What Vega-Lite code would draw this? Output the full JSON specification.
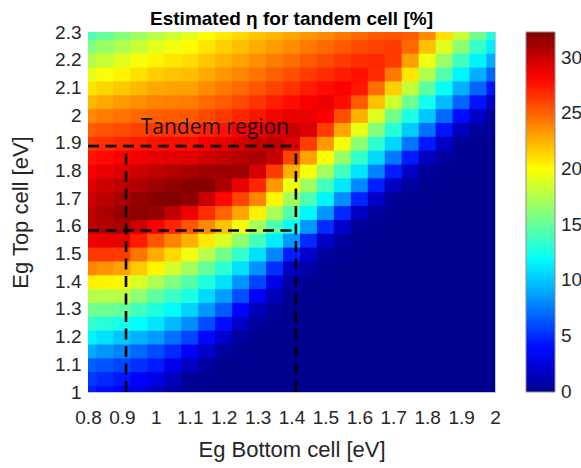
{
"$schema": "https://vega.github.io/schema/vega-lite/v6.json",
"width": 407, "height": 360,
"autosize": {"type": "none"},
"padding": {"left": 88, "top": 32, "right": 86, "bottom": 76},
"background": "white",
"title": {"text": "Estimated η for tandem cell [%]", "font": "Liberation Sans", "fontSize": 19, "fontWeight": "bold", "color": "#000000", "anchor": "middle", "offset": 7, "dy": 13},
"datasets": {
"grid": [
{"b":0.8,"t":1,"e":4.5},{"b":0.8,"t":1.05,"e":5.4},{"b":0.8,"t":1.1,"e":6.7},{"b":0.8,"t":1.15,"e":9},{"b":0.8,"t":1.2,"e":11.5},{"b":0.8,"t":1.25,"e":13.4},{"b":0.8,"t":1.3,"e":15.5},{"b":0.8,"t":1.35,"e":17.6},{"b":0.8,"t":1.4,"e":20.5},{"b":0.8,"t":1.45,"e":24},{"b":0.8,"t":1.5,"e":26.4},{"b":0.8,"t":1.55,"e":28.6},{"b":0.8,"t":1.6,"e":30.3},{"b":0.8,"t":1.65,"e":30.2},{"b":0.8,"t":1.7,"e":29.8},{"b":0.8,"t":1.75,"e":29.2},{"b":0.8,"t":1.8,"e":28.4},{"b":0.8,"t":1.85,"e":27.5},{"b":0.8,"t":1.9,"e":26.4},{"b":0.8,"t":1.95,"e":25.2},{"b":0.8,"t":2,"e":23.8},{"b":0.8,"t":2.05,"e":22.3},{"b":0.8,"t":2.1,"e":20.8},{"b":0.8,"t":2.15,"e":19.2},{"b":0.8,"t":2.2,"e":17.6},{"b":0.8,"t":2.25,"e":15.9},{"b":0.8,"t":2.3,"e":14.2},
{"b":0.85,"t":1,"e":4},{"b":0.85,"t":1.05,"e":4.9},{"b":0.85,"t":1.1,"e":6.3},{"b":0.85,"t":1.15,"e":8.4},{"b":0.85,"t":1.2,"e":10.8},{"b":0.85,"t":1.25,"e":13},{"b":0.85,"t":1.3,"e":15.3},{"b":0.85,"t":1.35,"e":17.7},{"b":0.85,"t":1.4,"e":20.4},{"b":0.85,"t":1.45,"e":23.5},{"b":0.85,"t":1.5,"e":26.4},{"b":0.85,"t":1.55,"e":28.8},{"b":0.85,"t":1.6,"e":30.7},{"b":0.85,"t":1.65,"e":30.9},{"b":0.85,"t":1.7,"e":30.4},{"b":0.85,"t":1.75,"e":29.8},{"b":0.85,"t":1.8,"e":28.9},{"b":0.85,"t":1.85,"e":27.9},{"b":0.85,"t":1.9,"e":26.7},{"b":0.85,"t":1.95,"e":25.5},{"b":0.85,"t":2,"e":24.2},{"b":0.85,"t":2.05,"e":22.8},{"b":0.85,"t":2.1,"e":21.3},{"b":0.85,"t":2.15,"e":19.8},{"b":0.85,"t":2.2,"e":18.3},{"b":0.85,"t":2.25,"e":16.7},{"b":0.85,"t":2.3,"e":15.1},
{"b":0.9,"t":1,"e":3.4},{"b":0.9,"t":1.05,"e":4.3},{"b":0.9,"t":1.1,"e":5.8},{"b":0.9,"t":1.15,"e":7.8},{"b":0.9,"t":1.2,"e":10},{"b":0.9,"t":1.25,"e":12.5},{"b":0.9,"t":1.3,"e":15},{"b":0.9,"t":1.35,"e":17.8},{"b":0.9,"t":1.4,"e":20.2},{"b":0.9,"t":1.45,"e":23},{"b":0.9,"t":1.5,"e":26.3},{"b":0.9,"t":1.55,"e":29},{"b":0.9,"t":1.6,"e":31},{"b":0.9,"t":1.65,"e":31.5},{"b":0.9,"t":1.7,"e":31},{"b":0.9,"t":1.75,"e":30.3},{"b":0.9,"t":1.8,"e":29.3},{"b":0.9,"t":1.85,"e":28.2},{"b":0.9,"t":1.9,"e":27},{"b":0.9,"t":1.95,"e":25.8},{"b":0.9,"t":2,"e":24.5},{"b":0.9,"t":2.05,"e":23.2},{"b":0.9,"t":2.1,"e":21.8},{"b":0.9,"t":2.15,"e":20.4},{"b":0.9,"t":2.2,"e":19},{"b":0.9,"t":2.25,"e":17.5},{"b":0.9,"t":2.3,"e":16},
{"b":0.95,"t":1,"e":2.5},{"b":0.95,"t":1.05,"e":3.6},{"b":0.95,"t":1.1,"e":5.1},{"b":0.95,"t":1.15,"e":6.9},{"b":0.95,"t":1.2,"e":9.3},{"b":0.95,"t":1.25,"e":11.8},{"b":0.95,"t":1.3,"e":13.9},{"b":0.95,"t":1.35,"e":16.3},{"b":0.95,"t":1.4,"e":18.8},{"b":0.95,"t":1.45,"e":21.7},{"b":0.95,"t":1.5,"e":24.5},{"b":0.95,"t":1.55,"e":27.3},{"b":0.95,"t":1.6,"e":29.8},{"b":0.95,"t":1.65,"e":31.9},{"b":0.95,"t":1.7,"e":31.7},{"b":0.95,"t":1.75,"e":30.8},{"b":0.95,"t":1.8,"e":29.8},{"b":0.95,"t":1.85,"e":28.6},{"b":0.95,"t":1.9,"e":27.4},{"b":0.95,"t":1.95,"e":26.1},{"b":0.95,"t":2,"e":24.9},{"b":0.95,"t":2.05,"e":23.6},{"b":0.95,"t":2.1,"e":22.3},{"b":0.95,"t":2.15,"e":21},{"b":0.95,"t":2.2,"e":19.7},{"b":0.95,"t":2.25,"e":18.3},{"b":0.95,"t":2.3,"e":16.9},
{"b":1,"t":1,"e":1.5},{"b":1,"t":1.05,"e":2.8},{"b":1,"t":1.1,"e":4.4},{"b":1,"t":1.15,"e":6},{"b":1,"t":1.2,"e":8.6},{"b":1,"t":1.25,"e":11},{"b":1,"t":1.3,"e":12.8},{"b":1,"t":1.35,"e":14.8},{"b":1,"t":1.4,"e":17.4},{"b":1,"t":1.45,"e":20.3},{"b":1,"t":1.5,"e":22.7},{"b":1,"t":1.55,"e":25.5},{"b":1,"t":1.6,"e":28.3},{"b":1,"t":1.65,"e":31.6},{"b":1,"t":1.7,"e":32.1},{"b":1,"t":1.75,"e":31.3},{"b":1,"t":1.8,"e":30.2},{"b":1,"t":1.85,"e":29},{"b":1,"t":1.9,"e":27.7},{"b":1,"t":1.95,"e":26.4},{"b":1,"t":2,"e":25.2},{"b":1,"t":2.05,"e":24},{"b":1,"t":2.1,"e":22.8},{"b":1,"t":2.15,"e":21.6},{"b":1,"t":2.2,"e":20.4},{"b":1,"t":2.25,"e":19.1},{"b":1,"t":2.3,"e":17.8},
{"b":1.05,"t":1,"e":0.6},{"b":1.05,"t":1.05,"e":1.5},{"b":1.05,"t":1.1,"e":3},{"b":1.05,"t":1.15,"e":4.9},{"b":1.05,"t":1.2,"e":7.2},{"b":1.05,"t":1.25,"e":9.6},{"b":1.05,"t":1.3,"e":11.7},{"b":1.05,"t":1.35,"e":13.7},{"b":1.05,"t":1.4,"e":15.9},{"b":1.05,"t":1.45,"e":18.6},{"b":1.05,"t":1.5,"e":21.2},{"b":1.05,"t":1.55,"e":24},{"b":1.05,"t":1.6,"e":27},{"b":1.05,"t":1.65,"e":30.2},{"b":1.05,"t":1.7,"e":32.2},{"b":1.05,"t":1.75,"e":31.7},{"b":1.05,"t":1.8,"e":30.6},{"b":1.05,"t":1.85,"e":29.1},{"b":1.05,"t":1.9,"e":27.8},{"b":1.05,"t":1.95,"e":26.5},{"b":1.05,"t":2,"e":25.3},{"b":1.05,"t":2.05,"e":24.1},{"b":1.05,"t":2.1,"e":23},{"b":1.05,"t":2.15,"e":21.9},{"b":1.05,"t":2.2,"e":20.8},{"b":1.05,"t":2.25,"e":19.6},{"b":1.05,"t":2.3,"e":18.5},
{"b":1.1,"t":1,"e":0},{"b":1.1,"t":1.05,"e":0.3},{"b":1.1,"t":1.1,"e":1.6},{"b":1.1,"t":1.15,"e":3.4},{"b":1.1,"t":1.2,"e":5.8},{"b":1.1,"t":1.25,"e":8.2},{"b":1.1,"t":1.3,"e":10.4},{"b":1.1,"t":1.35,"e":12.6},{"b":1.1,"t":1.4,"e":14.5},{"b":1.1,"t":1.45,"e":17},{"b":1.1,"t":1.5,"e":19.5},{"b":1.1,"t":1.55,"e":22.5},{"b":1.1,"t":1.6,"e":25.5},{"b":1.1,"t":1.65,"e":28.7},{"b":1.1,"t":1.7,"e":31.8},{"b":1.1,"t":1.75,"e":32.1},{"b":1.1,"t":1.8,"e":30.9},{"b":1.1,"t":1.85,"e":29.2},{"b":1.1,"t":1.9,"e":27.8},{"b":1.1,"t":1.95,"e":26.5},{"b":1.1,"t":2,"e":25.3},{"b":1.1,"t":2.05,"e":24.2},{"b":1.1,"t":2.1,"e":23.1},{"b":1.1,"t":2.15,"e":22.1},{"b":1.1,"t":2.2,"e":21.1},{"b":1.1,"t":2.25,"e":20.1},{"b":1.1,"t":2.3,"e":19.2},
{"b":1.15,"t":1,"e":0},{"b":1.15,"t":1.05,"e":0.1},{"b":1.15,"t":1.1,"e":0.5},{"b":1.15,"t":1.15,"e":1.8},{"b":1.15,"t":1.2,"e":3.8},{"b":1.15,"t":1.25,"e":6.1},{"b":1.15,"t":1.3,"e":8.5},{"b":1.15,"t":1.35,"e":10.6},{"b":1.15,"t":1.4,"e":12.8},{"b":1.15,"t":1.45,"e":15},{"b":1.15,"t":1.5,"e":17.7},{"b":1.15,"t":1.55,"e":20.7},{"b":1.15,"t":1.6,"e":23.8},{"b":1.15,"t":1.65,"e":26.8},{"b":1.15,"t":1.7,"e":29.9},{"b":1.15,"t":1.75,"e":32.1},{"b":1.15,"t":1.8,"e":31.3},{"b":1.15,"t":1.85,"e":29.7},{"b":1.15,"t":1.9,"e":28.4},{"b":1.15,"t":1.95,"e":27.1},{"b":1.15,"t":2,"e":25.9},{"b":1.15,"t":2.05,"e":24.8},{"b":1.15,"t":2.1,"e":23.7},{"b":1.15,"t":2.15,"e":22.7},{"b":1.15,"t":2.2,"e":21.8},{"b":1.15,"t":2.25,"e":20.8},{"b":1.15,"t":2.3,"e":19.9},
{"b":1.2,"t":1,"e":0},{"b":1.2,"t":1.05,"e":0},{"b":1.2,"t":1.1,"e":0},{"b":1.2,"t":1.15,"e":0.5},{"b":1.2,"t":1.2,"e":2},{"b":1.2,"t":1.25,"e":4},{"b":1.2,"t":1.3,"e":6.5},{"b":1.2,"t":1.35,"e":8.7},{"b":1.2,"t":1.4,"e":10.8},{"b":1.2,"t":1.45,"e":13.2},{"b":1.2,"t":1.5,"e":15.5},{"b":1.2,"t":1.55,"e":18.8},{"b":1.2,"t":1.6,"e":22},{"b":1.2,"t":1.65,"e":25},{"b":1.2,"t":1.7,"e":28},{"b":1.2,"t":1.75,"e":30.8},{"b":1.2,"t":1.8,"e":31.4},{"b":1.2,"t":1.85,"e":30.2},{"b":1.2,"t":1.9,"e":28.9},{"b":1.2,"t":1.95,"e":27.6},{"b":1.2,"t":2,"e":26.4},{"b":1.2,"t":2.05,"e":25.3},{"b":1.2,"t":2.1,"e":24.3},{"b":1.2,"t":2.15,"e":23.3},{"b":1.2,"t":2.2,"e":22.4},{"b":1.2,"t":2.25,"e":21.5},{"b":1.2,"t":2.3,"e":20.6},
{"b":1.25,"t":1,"e":0},{"b":1.25,"t":1.05,"e":0},{"b":1.25,"t":1.1,"e":0},{"b":1.25,"t":1.15,"e":0.1},{"b":1.25,"t":1.2,"e":0.5},{"b":1.25,"t":1.25,"e":1.8},{"b":1.25,"t":1.3,"e":3.7},{"b":1.25,"t":1.35,"e":6.1},{"b":1.25,"t":1.4,"e":8.4},{"b":1.25,"t":1.45,"e":10.8},{"b":1.25,"t":1.5,"e":13.4},{"b":1.25,"t":1.55,"e":16.4},{"b":1.25,"t":1.6,"e":19.6},{"b":1.25,"t":1.65,"e":22.9},{"b":1.25,"t":1.7,"e":26},{"b":1.25,"t":1.75,"e":28.9},{"b":1.25,"t":1.8,"e":31.3},{"b":1.25,"t":1.85,"e":30.6},{"b":1.25,"t":1.9,"e":29.5},{"b":1.25,"t":1.95,"e":28.2},{"b":1.25,"t":2,"e":27},{"b":1.25,"t":2.05,"e":25.9},{"b":1.25,"t":2.1,"e":24.9},{"b":1.25,"t":2.15,"e":23.9},{"b":1.25,"t":2.2,"e":23},{"b":1.25,"t":2.25,"e":22.1},{"b":1.25,"t":2.3,"e":21.2},
{"b":1.3,"t":1,"e":0},{"b":1.3,"t":1.05,"e":0},{"b":1.3,"t":1.1,"e":0},{"b":1.3,"t":1.15,"e":0},{"b":1.3,"t":1.2,"e":0},{"b":1.3,"t":1.25,"e":0.4},{"b":1.3,"t":1.3,"e":1.3},{"b":1.3,"t":1.35,"e":3.3},{"b":1.3,"t":1.4,"e":5.8},{"b":1.3,"t":1.45,"e":8.3},{"b":1.3,"t":1.5,"e":10.8},{"b":1.3,"t":1.55,"e":14},{"b":1.3,"t":1.6,"e":17.2},{"b":1.3,"t":1.65,"e":20.5},{"b":1.3,"t":1.7,"e":24},{"b":1.3,"t":1.75,"e":27},{"b":1.3,"t":1.8,"e":29.5},{"b":1.3,"t":1.85,"e":30.9},{"b":1.3,"t":1.9,"e":30},{"b":1.3,"t":1.95,"e":28.8},{"b":1.3,"t":2,"e":27.6},{"b":1.3,"t":2.05,"e":26.5},{"b":1.3,"t":2.1,"e":25.5},{"b":1.3,"t":2.15,"e":24.5},{"b":1.3,"t":2.2,"e":23.6},{"b":1.3,"t":2.25,"e":22.7},{"b":1.3,"t":2.3,"e":21.8},
{"b":1.35,"t":1,"e":0},{"b":1.35,"t":1.05,"e":0},{"b":1.35,"t":1.1,"e":0},{"b":1.35,"t":1.15,"e":0},{"b":1.35,"t":1.2,"e":0},{"b":1.35,"t":1.25,"e":0.1},{"b":1.35,"t":1.3,"e":0.4},{"b":1.35,"t":1.35,"e":1.3},{"b":1.35,"t":1.4,"e":2.8},{"b":1.35,"t":1.45,"e":5.1},{"b":1.35,"t":1.5,"e":8},{"b":1.35,"t":1.55,"e":11.3},{"b":1.35,"t":1.6,"e":14.4},{"b":1.35,"t":1.65,"e":17.3},{"b":1.35,"t":1.7,"e":20.3},{"b":1.35,"t":1.75,"e":23.3},{"b":1.35,"t":1.8,"e":26.3},{"b":1.35,"t":1.85,"e":30},{"b":1.35,"t":1.9,"e":30.3},{"b":1.35,"t":1.95,"e":29.4},{"b":1.35,"t":2,"e":28.3},{"b":1.35,"t":2.05,"e":27.2},{"b":1.35,"t":2.1,"e":26.1},{"b":1.35,"t":2.15,"e":25.1},{"b":1.35,"t":2.2,"e":24.2},{"b":1.35,"t":2.25,"e":23.2},{"b":1.35,"t":2.3,"e":22.3},
{"b":1.4,"t":1,"e":0},{"b":1.4,"t":1.05,"e":0},{"b":1.4,"t":1.1,"e":0},{"b":1.4,"t":1.15,"e":0},{"b":1.4,"t":1.2,"e":0},{"b":1.4,"t":1.25,"e":0},{"b":1.4,"t":1.3,"e":0},{"b":1.4,"t":1.35,"e":0.2},{"b":1.4,"t":1.4,"e":0.6},{"b":1.4,"t":1.45,"e":1.8},{"b":1.4,"t":1.5,"e":4.5},{"b":1.4,"t":1.55,"e":8.5},{"b":1.4,"t":1.6,"e":12},{"b":1.4,"t":1.65,"e":14.5},{"b":1.4,"t":1.7,"e":17},{"b":1.4,"t":1.75,"e":19.5},{"b":1.4,"t":1.8,"e":22.5},{"b":1.4,"t":1.85,"e":26},{"b":1.4,"t":1.9,"e":29.3},{"b":1.4,"t":1.95,"e":30},{"b":1.4,"t":2,"e":28.9},{"b":1.4,"t":2.05,"e":27.8},{"b":1.4,"t":2.1,"e":26.7},{"b":1.4,"t":2.15,"e":25.7},{"b":1.4,"t":2.2,"e":24.7},{"b":1.4,"t":2.25,"e":23.7},{"b":1.4,"t":2.3,"e":22.8},
{"b":1.45,"t":1,"e":0},{"b":1.45,"t":1.05,"e":0},{"b":1.45,"t":1.1,"e":0},{"b":1.45,"t":1.15,"e":0},{"b":1.45,"t":1.2,"e":0},{"b":1.45,"t":1.25,"e":0},{"b":1.45,"t":1.3,"e":0},{"b":1.45,"t":1.35,"e":0},{"b":1.45,"t":1.4,"e":0.2},{"b":1.45,"t":1.45,"e":0.7},{"b":1.45,"t":1.5,"e":2},{"b":1.45,"t":1.55,"e":4.9},{"b":1.45,"t":1.6,"e":8.5},{"b":1.45,"t":1.65,"e":11.6},{"b":1.45,"t":1.7,"e":14.3},{"b":1.45,"t":1.75,"e":16.9},{"b":1.45,"t":1.8,"e":19.8},{"b":1.45,"t":1.85,"e":23},{"b":1.45,"t":1.9,"e":26.3},{"b":1.45,"t":1.95,"e":29.3},{"b":1.45,"t":2,"e":28.9},{"b":1.45,"t":2.05,"e":28.3},{"b":1.45,"t":2.1,"e":27.3},{"b":1.45,"t":2.15,"e":26.3},{"b":1.45,"t":2.2,"e":25.3},{"b":1.45,"t":2.25,"e":24.3},{"b":1.45,"t":2.3,"e":23.3},
{"b":1.5,"t":1,"e":0},{"b":1.5,"t":1.05,"e":0},{"b":1.5,"t":1.1,"e":0},{"b":1.5,"t":1.15,"e":0},{"b":1.5,"t":1.2,"e":0},{"b":1.5,"t":1.25,"e":0},{"b":1.5,"t":1.3,"e":0},{"b":1.5,"t":1.35,"e":0},{"b":1.5,"t":1.4,"e":0},{"b":1.5,"t":1.45,"e":0.1},{"b":1.5,"t":1.5,"e":0.4},{"b":1.5,"t":1.55,"e":1.8},{"b":1.5,"t":1.6,"e":5},{"b":1.5,"t":1.65,"e":8.5},{"b":1.5,"t":1.7,"e":11.5},{"b":1.5,"t":1.75,"e":14},{"b":1.5,"t":1.8,"e":17},{"b":1.5,"t":1.85,"e":20},{"b":1.5,"t":1.9,"e":23.3},{"b":1.5,"t":1.95,"e":26.3},{"b":1.5,"t":2,"e":28.3},{"b":1.5,"t":2.05,"e":28.8},{"b":1.5,"t":2.1,"e":27.8},{"b":1.5,"t":2.15,"e":26.8},{"b":1.5,"t":2.2,"e":25.8},{"b":1.5,"t":2.25,"e":24.8},{"b":1.5,"t":2.3,"e":23.8},
{"b":1.55,"t":1,"e":0},{"b":1.55,"t":1.05,"e":0},{"b":1.55,"t":1.1,"e":0},{"b":1.55,"t":1.15,"e":0},{"b":1.55,"t":1.2,"e":0},{"b":1.55,"t":1.25,"e":0},{"b":1.55,"t":1.3,"e":0},{"b":1.55,"t":1.35,"e":0},{"b":1.55,"t":1.4,"e":0},{"b":1.55,"t":1.45,"e":0},{"b":1.55,"t":1.5,"e":0.2},{"b":1.55,"t":1.55,"e":0.6},{"b":1.55,"t":1.6,"e":2},{"b":1.55,"t":1.65,"e":4.9},{"b":1.55,"t":1.7,"e":8.2},{"b":1.55,"t":1.75,"e":11.1},{"b":1.55,"t":1.8,"e":13.9},{"b":1.55,"t":1.85,"e":16.7},{"b":1.55,"t":1.9,"e":19.7},{"b":1.55,"t":1.95,"e":22.9},{"b":1.55,"t":2,"e":25.7},{"b":1.55,"t":2.05,"e":27.8},{"b":1.55,"t":2.1,"e":28.2},{"b":1.55,"t":2.15,"e":27.3},{"b":1.55,"t":2.2,"e":26.3},{"b":1.55,"t":2.25,"e":25.3},{"b":1.55,"t":2.3,"e":24.3},
{"b":1.6,"t":1,"e":0},{"b":1.6,"t":1.05,"e":0},{"b":1.6,"t":1.1,"e":0},{"b":1.6,"t":1.15,"e":0},{"b":1.6,"t":1.2,"e":0},{"b":1.6,"t":1.25,"e":0},{"b":1.6,"t":1.3,"e":0},{"b":1.6,"t":1.35,"e":0},{"b":1.6,"t":1.4,"e":0},{"b":1.6,"t":1.45,"e":0},{"b":1.6,"t":1.5,"e":0},{"b":1.6,"t":1.55,"e":0.1},{"b":1.6,"t":1.6,"e":0.3},{"b":1.6,"t":1.65,"e":1.6},{"b":1.6,"t":1.7,"e":4.7},{"b":1.6,"t":1.75,"e":8},{"b":1.6,"t":1.8,"e":11},{"b":1.6,"t":1.85,"e":13.5},{"b":1.6,"t":1.9,"e":16.3},{"b":1.6,"t":1.95,"e":19.3},{"b":1.6,"t":2,"e":22.5},{"b":1.6,"t":2.05,"e":25.3},{"b":1.6,"t":2.1,"e":27.5},{"b":1.6,"t":2.15,"e":27.7},{"b":1.6,"t":2.2,"e":26.8},{"b":1.6,"t":2.25,"e":25.8},{"b":1.6,"t":2.3,"e":24.8},
{"b":1.65,"t":1,"e":0},{"b":1.65,"t":1.05,"e":0},{"b":1.65,"t":1.1,"e":0},{"b":1.65,"t":1.15,"e":0},{"b":1.65,"t":1.2,"e":0},{"b":1.65,"t":1.25,"e":0},{"b":1.65,"t":1.3,"e":0},{"b":1.65,"t":1.35,"e":0},{"b":1.65,"t":1.4,"e":0},{"b":1.65,"t":1.45,"e":0},{"b":1.65,"t":1.5,"e":0},{"b":1.65,"t":1.55,"e":0},{"b":1.65,"t":1.6,"e":0.1},{"b":1.65,"t":1.65,"e":0.5},{"b":1.65,"t":1.7,"e":1.8},{"b":1.65,"t":1.75,"e":4.6},{"b":1.65,"t":1.8,"e":7.8},{"b":1.65,"t":1.85,"e":10.6},{"b":1.65,"t":1.9,"e":13.3},{"b":1.65,"t":1.95,"e":16},{"b":1.65,"t":2,"e":18.9},{"b":1.65,"t":2.05,"e":22},{"b":1.65,"t":2.1,"e":24.7},{"b":1.65,"t":2.15,"e":26.8},{"b":1.65,"t":2.2,"e":26.9},{"b":1.65,"t":2.25,"e":26.1},{"b":1.65,"t":2.3,"e":25.2},
{"b":1.7,"t":1,"e":0},{"b":1.7,"t":1.05,"e":0},{"b":1.7,"t":1.1,"e":0},{"b":1.7,"t":1.15,"e":0},{"b":1.7,"t":1.2,"e":0},{"b":1.7,"t":1.25,"e":0},{"b":1.7,"t":1.3,"e":0},{"b":1.7,"t":1.35,"e":0},{"b":1.7,"t":1.4,"e":0},{"b":1.7,"t":1.45,"e":0},{"b":1.7,"t":1.5,"e":0},{"b":1.7,"t":1.55,"e":0},{"b":1.7,"t":1.6,"e":0},{"b":1.7,"t":1.65,"e":0.1},{"b":1.7,"t":1.7,"e":0.3},{"b":1.7,"t":1.75,"e":1.5},{"b":1.7,"t":1.8,"e":4.5},{"b":1.7,"t":1.85,"e":7.5},{"b":1.7,"t":1.9,"e":10.5},{"b":1.7,"t":1.95,"e":13},{"b":1.7,"t":2,"e":15.5},{"b":1.7,"t":2.05,"e":18.5},{"b":1.7,"t":2.1,"e":21.5},{"b":1.7,"t":2.15,"e":24.3},{"b":1.7,"t":2.2,"e":26.3},{"b":1.7,"t":2.25,"e":26.3},{"b":1.7,"t":2.3,"e":25.5},
{"b":1.75,"t":1,"e":0},{"b":1.75,"t":1.05,"e":0},{"b":1.75,"t":1.1,"e":0},{"b":1.75,"t":1.15,"e":0},{"b":1.75,"t":1.2,"e":0},{"b":1.75,"t":1.25,"e":0},{"b":1.75,"t":1.3,"e":0},{"b":1.75,"t":1.35,"e":0},{"b":1.75,"t":1.4,"e":0},{"b":1.75,"t":1.45,"e":0},{"b":1.75,"t":1.5,"e":0},{"b":1.75,"t":1.55,"e":0},{"b":1.75,"t":1.6,"e":0},{"b":1.75,"t":1.65,"e":0},{"b":1.75,"t":1.7,"e":0.1},{"b":1.75,"t":1.75,"e":0.5},{"b":1.75,"t":1.8,"e":1.8},{"b":1.75,"t":1.85,"e":4.4},{"b":1.75,"t":1.9,"e":7.4},{"b":1.75,"t":1.95,"e":10.2},{"b":1.75,"t":2,"e":12.7},{"b":1.75,"t":2.05,"e":15.3},{"b":1.75,"t":2.1,"e":18.1},{"b":1.75,"t":2.15,"e":20.8},{"b":1.75,"t":2.2,"e":23.1},{"b":1.75,"t":2.25,"e":24.9},{"b":1.75,"t":2.3,"e":25.3},
{"b":1.8,"t":1,"e":0},{"b":1.8,"t":1.05,"e":0},{"b":1.8,"t":1.1,"e":0},{"b":1.8,"t":1.15,"e":0},{"b":1.8,"t":1.2,"e":0},{"b":1.8,"t":1.25,"e":0},{"b":1.8,"t":1.3,"e":0},{"b":1.8,"t":1.35,"e":0},{"b":1.8,"t":1.4,"e":0},{"b":1.8,"t":1.45,"e":0},{"b":1.8,"t":1.5,"e":0},{"b":1.8,"t":1.55,"e":0},{"b":1.8,"t":1.6,"e":0},{"b":1.8,"t":1.65,"e":0},{"b":1.8,"t":1.7,"e":0},{"b":1.8,"t":1.75,"e":0.1},{"b":1.8,"t":1.8,"e":0.3},{"b":1.8,"t":1.85,"e":1.5},{"b":1.8,"t":1.9,"e":4.3},{"b":1.8,"t":1.95,"e":7.2},{"b":1.8,"t":2,"e":10},{"b":1.8,"t":2.05,"e":12.3},{"b":1.8,"t":2.1,"e":14.8},{"b":1.8,"t":2.15,"e":17.5},{"b":1.8,"t":2.2,"e":19.5},{"b":1.8,"t":2.25,"e":22},{"b":1.8,"t":2.3,"e":23.8},
{"b":1.85,"t":1,"e":0},{"b":1.85,"t":1.05,"e":0},{"b":1.85,"t":1.1,"e":0},{"b":1.85,"t":1.15,"e":0},{"b":1.85,"t":1.2,"e":0},{"b":1.85,"t":1.25,"e":0},{"b":1.85,"t":1.3,"e":0},{"b":1.85,"t":1.35,"e":0},{"b":1.85,"t":1.4,"e":0},{"b":1.85,"t":1.45,"e":0},{"b":1.85,"t":1.5,"e":0},{"b":1.85,"t":1.55,"e":0},{"b":1.85,"t":1.6,"e":0},{"b":1.85,"t":1.65,"e":0},{"b":1.85,"t":1.7,"e":0},{"b":1.85,"t":1.75,"e":0},{"b":1.85,"t":1.8,"e":0.1},{"b":1.85,"t":1.85,"e":0.5},{"b":1.85,"t":1.9,"e":1.7},{"b":1.85,"t":1.95,"e":4.2},{"b":1.85,"t":2,"e":7},{"b":1.85,"t":2.05,"e":9.6},{"b":1.85,"t":2.1,"e":12},{"b":1.85,"t":2.15,"e":14.4},{"b":1.85,"t":2.2,"e":16.8},{"b":1.85,"t":2.25,"e":19},{"b":1.85,"t":2.3,"e":21},
{"b":1.9,"t":1,"e":0},{"b":1.9,"t":1.05,"e":0},{"b":1.9,"t":1.1,"e":0},{"b":1.9,"t":1.15,"e":0},{"b":1.9,"t":1.2,"e":0},{"b":1.9,"t":1.25,"e":0},{"b":1.9,"t":1.3,"e":0},{"b":1.9,"t":1.35,"e":0},{"b":1.9,"t":1.4,"e":0},{"b":1.9,"t":1.45,"e":0},{"b":1.9,"t":1.5,"e":0},{"b":1.9,"t":1.55,"e":0},{"b":1.9,"t":1.6,"e":0},{"b":1.9,"t":1.65,"e":0},{"b":1.9,"t":1.7,"e":0},{"b":1.9,"t":1.75,"e":0},{"b":1.9,"t":1.8,"e":0},{"b":1.9,"t":1.85,"e":0.1},{"b":1.9,"t":1.9,"e":0.3},{"b":1.9,"t":1.95,"e":1.4},{"b":1.9,"t":2,"e":4},{"b":1.9,"t":2.05,"e":6.8},{"b":1.9,"t":2.1,"e":9.3},{"b":1.9,"t":2.15,"e":11.5},{"b":1.9,"t":2.2,"e":13.8},{"b":1.9,"t":2.25,"e":16.3},{"b":1.9,"t":2.3,"e":18.3},
{"b":1.95,"t":1,"e":0},{"b":1.95,"t":1.05,"e":0},{"b":1.95,"t":1.1,"e":0},{"b":1.95,"t":1.15,"e":0},{"b":1.95,"t":1.2,"e":0},{"b":1.95,"t":1.25,"e":0},{"b":1.95,"t":1.3,"e":0},{"b":1.95,"t":1.35,"e":0},{"b":1.95,"t":1.4,"e":0},{"b":1.95,"t":1.45,"e":0},{"b":1.95,"t":1.5,"e":0},{"b":1.95,"t":1.55,"e":0},{"b":1.95,"t":1.6,"e":0},{"b":1.95,"t":1.65,"e":0},{"b":1.95,"t":1.7,"e":0},{"b":1.95,"t":1.75,"e":0},{"b":1.95,"t":1.8,"e":0},{"b":1.95,"t":1.85,"e":0},{"b":1.95,"t":1.9,"e":0.1},{"b":1.95,"t":1.95,"e":0.5},{"b":1.95,"t":2,"e":1.8},{"b":1.95,"t":2.05,"e":4.2},{"b":1.95,"t":2.1,"e":6.8},{"b":1.95,"t":2.15,"e":9.2},{"b":1.95,"t":2.2,"e":11.4},{"b":1.95,"t":2.25,"e":13.5},{"b":1.95,"t":2.3,"e":15.4},
{"b":2,"t":1,"e":0},{"b":2,"t":1.05,"e":0},{"b":2,"t":1.1,"e":0},{"b":2,"t":1.15,"e":0},{"b":2,"t":1.2,"e":0},{"b":2,"t":1.25,"e":0},{"b":2,"t":1.3,"e":0},{"b":2,"t":1.35,"e":0},{"b":2,"t":1.4,"e":0},{"b":2,"t":1.45,"e":0},{"b":2,"t":1.5,"e":0},{"b":2,"t":1.55,"e":0},{"b":2,"t":1.6,"e":0},{"b":2,"t":1.65,"e":0},{"b":2,"t":1.7,"e":0},{"b":2,"t":1.75,"e":0},{"b":2,"t":1.8,"e":0},{"b":2,"t":1.85,"e":0},{"b":2,"t":1.9,"e":0},{"b":2,"t":1.95,"e":0.1},{"b":2,"t":2,"e":0.3},{"b":2,"t":2.05,"e":1.8},{"b":2,"t":2.1,"e":4.2},{"b":2,"t":2.15,"e":6.8},{"b":2,"t":2.2,"e":9.2},{"b":2,"t":2.25,"e":11.2},{"b":2,"t":2.3,"e":12.8}
],
"box": [
{"x1":0.8,"x2":1.413,"y1":1.888,"y2":1.888},
{"x1":0.8,"x2":1.413,"y1":1.583,"y2":1.583},
{"x1":0.912,"x2":0.912,"y1":1,"y2":1.888},
{"x1":1.413,"x2":1.413,"y1":1,"y2":1.888}
]
},
"layer": [
{
"data": {"name": "grid"},
"mark": {"type": "rect", "clip": true, "binSpacing": 0, "xOffset": 0.5, "x2Offset": -0.5, "yOffset": -0.5, "y2Offset": 0.5},
"encoding": {
"x": {"field": "b", "type": "quantitative", "bin": {"step": 0.05, "extent": [0.775, 2.025], "nice": false}, "scale": {"domain": [0.8, 2], "nice": false, "zero": false}, "title": "Eg Bottom cell [eV]",
"axis": {"values": [0.8,0.9,1,1.1,1.2,1.3,1.4,1.5,1.6,1.7,1.8,1.9,2], "format": "~g", "labelOverlap": false, "labelFlush": false}},
"y": {"field": "t", "type": "quantitative", "bin": {"step": 0.05, "extent": [0.975, 2.325], "nice": false}, "scale": {"domain": [1, 2.3], "nice": false, "zero": false}, "title": "Eg Top cell [eV]",
"axis": {"values": [1,1.1,1.2,1.3,1.4,1.5,1.6,1.7,1.8,1.9,2,2.1,2.2,2.3], "format": "~g", "labelOverlap": false, "labelFlush": false}},
"color": {"field": "e", "type": "quantitative",
"scale": {"type": "linear", "domain": [-0.01, 3.6, 11.8, 20, 28.2, 32.3], "range": ["#00008f", "#0000ff", "#00ffff", "#ffff00", "#ff0000", "#800000"], "interpolate": "rgb", "clamp": true},
"legend": {"type": "gradient", "orient": "none", "legendX": 438, "legendY": 0, "direction": "vertical", "gradientLength": 360, "gradientThickness": 29, "title": null, "values": [0,5,10,15,20,25,30], "labelFontSize": 19, "labelFont": "Liberation Sans", "labelColor": "#262626", "labelOffset": 6, "gradientStrokeColor": "#8c8c8c", "gradientStrokeWidth": 1, "padding": 0}}
}
},
{
"data": {"name": "box"},
"mark": {"type": "rule", "color": "#000000", "strokeWidth": 2.6, "strokeDash": [11, 6.5], "clip": true},
"encoding": {
"x": {"field": "x1", "type": "quantitative", "scale": {"domain": [0.8, 2]}, "title": "Eg Bottom cell [eV]"},
"x2": {"field": "x2"},
"y": {"field": "y1", "type": "quantitative", "scale": {"domain": [1, 2.3]}, "title": "Eg Top cell [eV]"},
"y2": {"field": "y2"}
}
},
{
"data": {"values": [{}]},
"mark": {"type": "text", "text": "Tandem region", "font": "Open Sans", "fontSize": 21, "align": "center", "baseline": "alphabetic", "color": "#141414"},
"encoding": {
"x": {"datum": 1.174, "type": "quantitative"},
"y": {"datum": 1.932, "type": "quantitative"}
}
}
],
"config": {
"view": {"stroke": "#c4c4d4", "strokeWidth": 1},
"axis": {"ticks": false, "domain": false, "grid": false, "labelFont": "Liberation Sans", "labelFontSize": 19, "labelColor": "#262626", "titleFont": "Liberation Sans", "titleFontSize": 22, "titleFontWeight": "normal", "titleColor": "#262626"},
"axisX": {"labelPadding": 16, "titlePadding": 12},
"axisY": {"labelPadding": 7, "titlePadding": 22}
}
}
